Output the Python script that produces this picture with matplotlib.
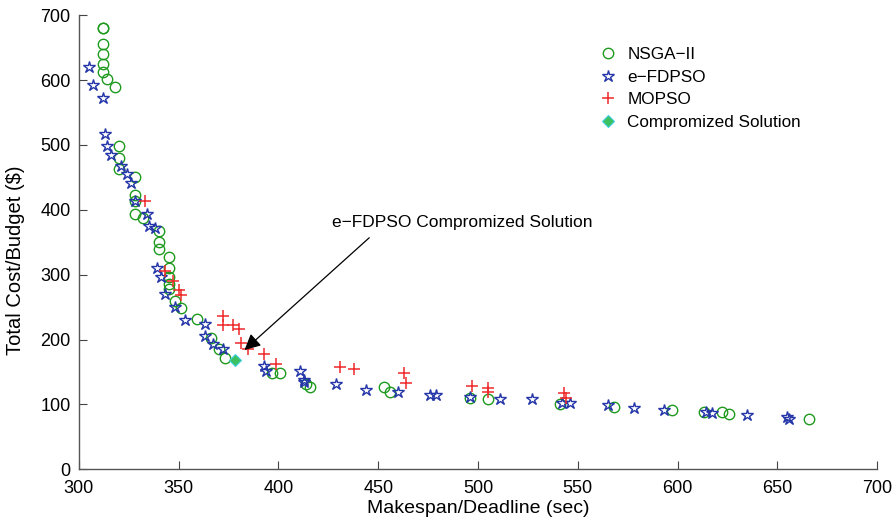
import matplotlib
matplotlib.use("Agg")
import matplotlib.pyplot as plt

# ---------------- DATA ----------------
nsga_x = [312, 312, 312, 312, 312, 312, 314, 318, 320, 320, 320, 328, 328, 328, 328,
          332, 340, 340, 340, 345, 345, 345, 345, 345, 348, 351, 359, 366, 370, 373,
          397, 401, 414, 416, 453, 456, 496, 505, 541, 568, 597, 613, 622, 626, 666]
nsga_y = [681, 681, 655, 640, 625, 613, 601, 590, 499, 480, 463, 451, 423, 413, 393,
          388, 368, 351, 340, 327, 310, 297, 285, 278, 260, 248, 231, 203, 185, 172,
          148, 148, 132, 127, 127, 119, 110, 109, 101, 96, 91, 88, 88, 86, 78]

efdpso_x = [305, 307, 312, 313, 314, 316, 321, 324, 326, 328, 334, 335, 338, 339, 341,
            343, 348, 353, 363, 363, 367, 372, 393, 394, 411, 413, 413, 429, 444, 460,
            476, 479, 496, 511, 527, 542, 546, 565, 578, 593, 614, 617, 635, 655, 656]
efdpso_y = [620, 592, 573, 517, 498, 485, 467, 455, 442, 414, 393, 375, 372, 310, 297,
            271, 251, 230, 224, 205, 193, 185, 160, 151, 152, 138, 134, 131, 123, 119,
            114, 114, 111, 109, 108, 102, 102, 99, 95, 92, 89, 87, 84, 81, 78]

mopso_x = [333, 343, 347, 350, 351, 372, 372, 377, 380, 381, 385, 393, 399, 431, 438,
           463, 464, 497, 505, 505, 543, 544]
mopso_y = [414, 305, 291, 276, 268, 237, 222, 222, 217, 195, 186, 178, 163, 157, 154,
           149, 133, 128, 125, 120, 118, 110]

comp_x = [378]
comp_y = [168]

legend_labels = ["NSGA\u2212II", "e\u2212FDPSO", "MOPSO", "Compromized Solution"]
annot_text = "e\u2212FDPSO Compromized Solution"

x_ticks = [300, 350, 400, 450, 500, 550, 600, 650, 700]
y_ticks = [0, 100, 200, 300, 400, 500, 600, 700]

# ---------------- PLOT ----------------
plt.rcParams['font.family'] = ['Liberation Sans', 'DejaVu Sans']

fig = plt.figure(figsize=(8.96, 5.25), dpi=100)
ax = fig.add_axes([0.088, 0.106, 0.891, 0.865])

ax.plot(nsga_x, nsga_y, 'o', ls='none', mfc='none', mec='#1f9a1f', mew=1.0, ms=7.5,
        label=legend_labels[0])
ax.plot(efdpso_x, efdpso_y, '*', ls='none', mfc='none', mec='#2536a8', mew=1.0, ms=9,
        label=legend_labels[1])
ax.plot(mopso_x, mopso_y, '+', ls='none', color='#ee2a2a', mew=1.1, ms=9,
        label=legend_labels[2])
ax.plot(comp_x, comp_y, 'D', ls='none', mfc='#3cc060', mec='#40d0e0', mew=0.8, ms=6,
        label=legend_labels[3])

# annotation: text and arrow drawn separately (arrow tail is left of text centre)
ax.text(492, 369, annot_text, ha='center', va='bottom', fontsize=12.5)
ax.annotate("", xy=(383, 184), xytext=(445.5, 357),
            arrowprops=dict(arrowstyle='-|>', color='black', lw=0.9,
                            mutation_scale=24, shrinkA=0, shrinkB=0))

ax.set_xlim(300, 700)
ax.set_ylim(0, 700)
ax.set_xticks(x_ticks)
ax.set_yticks(y_ticks)
ax.tick_params(direction='in', length=6, width=0.8, colors='#444444',
               labelcolor='black', labelsize=13, top=False, right=False)
ax.tick_params(axis='x', pad=8)
ax.tick_params(axis='y', pad=6)

for side in ['top', 'right']:
    ax.spines[side].set_visible(False)
for side in ['left', 'bottom']:
    ax.spines[side].set_color('#555555')
    ax.spines[side].set_linewidth(1.0)

ax.set_xlabel("Makespan/Deadline (sec)", fontsize=14, labelpad=2)
ax.set_ylabel("Total Cost/Budget ($)", fontsize=14.5, labelpad=10)
ax.yaxis.set_label_coords(-0.068, 0.46)

ax.legend(loc='upper right', bbox_to_anchor=(0.913, 0.945), frameon=False, fontsize=12.3,
          handletextpad=0.5, labelspacing=0.45, handlelength=1.2, borderaxespad=0)

fig.savefig("out.png", dpi=100)
